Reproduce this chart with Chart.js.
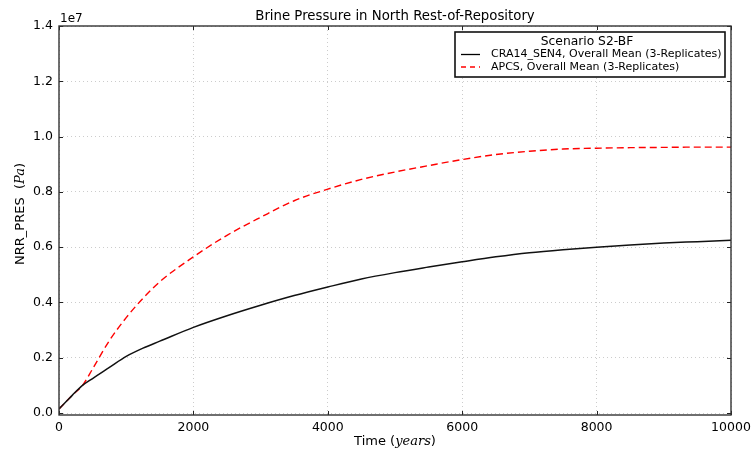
<!DOCTYPE html>
<html>
<head>
<meta charset="utf-8">
<script src="https://cdn.jsdelivr.net/npm/chart.js@4.4.0/dist/chart.umd.min.js"></script>
<style>
  html, body { margin: 0; padding: 0; background: #fff; }
  #wrap { width: 752px; height: 453px; }
</style>
</head>
<body>
<div id="wrap"><canvas id="chart" width="752" height="453"></canvas></div>
<script>
// --- data (pressure in units of 1e7 Pa) ---
const years = [0, 100, 200, 350, 500, 750, 1000, 1250, 1500, 2000, 2500, 3000, 3500, 4000,
  4500, 5000, 5500, 6000, 6500, 7000, 7500, 8000, 8500, 9000, 9500, 10000];
const cra14Pres = [0.015, 0.04, 0.065, 0.1, 0.125, 0.165, 0.205, 0.235, 0.26, 0.31, 0.352, 0.39,
  0.425, 0.456, 0.485, 0.508, 0.528, 0.547, 0.565, 0.58, 0.591, 0.6, 0.608, 0.615, 0.62, 0.625];
const apcsPres = [0.015, 0.04, 0.065, 0.1, 0.16, 0.262, 0.345, 0.415, 0.475, 0.565, 0.643, 0.708,
  0.768, 0.81, 0.845, 0.872, 0.895, 0.917, 0.935, 0.947, 0.955, 0.958, 0.96, 0.961, 0.962, 0.962];
const xTicks = [0, 2000, 4000, 6000, 8000, 10000];
const yTicks = [0, 0.2, 0.4, 0.6, 0.8, 1.0, 1.2, 1.4];

const FONT = "'DejaVu Sans', sans-serif";
const MATH = "'DejaVu Serif', serif";

function pts(xs, ys) {
  return xs.map((x, i) => ({ x: x, y: ys[i] }));
}

// matplotlib-ish decorations: frame, inward ticks, title, axis labels, legend
const decor = {
  id: "decor",
  afterDatasetsDraw(chart) {
    const c = chart.ctx;
    const a = chart.chartArea;
    const sx = chart.scales.x, sy = chart.scales.y;
    c.save();
    // inward ticks on all sides
    c.strokeStyle = "#222";
    c.lineWidth = 1;
    c.beginPath();
    xTicks.forEach(t => {
      const px = Math.round(sx.getPixelForValue(t)) + 0.5;
      c.moveTo(px, a.bottom); c.lineTo(px, a.bottom - 4);
      c.moveTo(px, a.top); c.lineTo(px, a.top + 4);
    });
    yTicks.forEach(t => {
      const py = Math.round(sy.getPixelForValue(t)) + 0.5;
      c.moveTo(a.left, py); c.lineTo(a.left + 4, py);
      c.moveTo(a.right, py); c.lineTo(a.right - 4, py);
    });
    c.stroke();
    // frame
    c.lineWidth = 1.4;
    c.strokeStyle = "#333";
    c.strokeRect(a.left, a.top, a.right - a.left, a.bottom - a.top);

    // title
    c.fillStyle = "#000";
    c.font = "13.3px " + FONT;
    c.textAlign = "center";
    c.textBaseline = "alphabetic";
    c.fillText("Brine Pressure in North Rest-of-Repository", (a.left + a.right) / 2, 20);
    // offset text
    c.font = "12px " + FONT;
    c.textAlign = "left";
    c.fillText("1e7", a.left + 1, 22);

    // x label: Time (years)
    const cx = (a.left + a.right) / 2;
    const parts = [["Time (", "13px " + FONT], ["years", "italic 13px " + MATH], [")", "13px " + FONT]];
    let w = 0;
    parts.forEach(p => { c.font = p[1]; w += c.measureText(p[0]).width; });
    let x = cx - w / 2;
    parts.forEach(p => { c.font = p[1]; c.fillText(p[0], x, 445); x += c.measureText(p[0]).width; });

    // y label: NRR_PRES (Pa)
    c.save();
    c.translate(24, 214);
    c.rotate(-Math.PI / 2);
    const yparts = [["NRR_PRES  (", "13px " + FONT], ["Pa", "italic 13px " + MATH], [")", "13px " + FONT]];
    w = 0;
    yparts.forEach(p => { c.font = p[1]; w += c.measureText(p[0]).width; });
    x = -w / 2;
    yparts.forEach(p => { c.font = p[1]; c.fillText(p[0], x, 0); x += c.measureText(p[0]).width; });
    c.restore();

    // legend
    const lx = 455, ly = 32, lw = 270, lh = 45;
    c.fillStyle = "#fff";
    c.fillRect(lx, ly, lw, lh);
    c.strokeStyle = "#111";
    c.lineWidth = 1.6;
    c.strokeRect(lx, ly, lw, lh);
    c.fillStyle = "#000";
    c.textAlign = "center";
    c.textBaseline = "middle";
    c.font = "12.3px " + FONT;
    c.fillText("Scenario S2-BF", lx + lw / 2 - 3, ly + 10);
    const items = [
      ["CRA14_SEN4, Overall Mean (3-Replicates)", "#000", []],
      ["APCS, Overall Mean (3-Replicates)", "#ff0000", [5, 4]]
    ];
    c.textAlign = "left";
    c.font = "11px " + FONT;
    items.forEach((it, i) => {
      const yy = ly + 22.5 + i * 12.5;
      c.strokeStyle = it[1];
      c.lineWidth = 1.3;
      c.setLineDash(it[2]);
      c.beginPath();
      c.moveTo(lx + 6, yy); c.lineTo(lx + 25, yy);
      c.stroke();
      c.setLineDash([]);
      c.fillStyle = "#000";
      c.fillText(it[0], lx + 36, yy);
    });
    c.restore();
  }
};

new Chart(document.getElementById("chart"), {
  type: "line",
  data: {
    datasets: [
      {
        label: "CRA14_SEN4, Overall Mean (3-Replicates)",
        data: pts(years, cra14Pres),
        borderColor: "#111",
        borderWidth: 1.5,
        pointRadius: 0,
        cubicInterpolationMode: "monotone",
        fill: false
      },
      {
        label: "APCS, Overall Mean (3-Replicates)",
        data: pts(years, apcsPres),
        borderColor: "#ff0000",
        borderWidth: 1.4,
        borderDash: [7, 4],
        pointRadius: 0,
        cubicInterpolationMode: "monotone",
        fill: false
      }
    ]
  },
  options: {
    responsive: false,
    animation: false,
    layout: { padding: { left: 0, top: 26, right: 21, bottom: 0 } },
    plugins: { legend: { display: false }, tooltip: { enabled: false } },
    scales: {
      x: {
        type: "linear",
        min: 0,
        max: 10000,
        afterBuildTicks: s => { s.ticks = xTicks.map(v => ({ value: v })); },
        afterFit: s => { s.height = 38; s.paddingRight = 0; s.paddingLeft = 0; },
        grid: { color: "rgba(0,0,0,0.25)", lineWidth: 0.8, drawTicks: false },
        border: { display: false, dash: [1, 3] },
        ticks: { color: "#000", font: { family: FONT, size: 12.5 }, padding: 5, maxRotation: 0,
          callback: v => String(v) }
      },
      y: {
        type: "linear",
        min: -0.007,
        max: 1.4,
        afterBuildTicks: s => { s.ticks = yTicks.map(v => ({ value: v })); },
        afterFit: s => { s.width = 59; },
        grid: { color: "rgba(0,0,0,0.25)", lineWidth: 0.8, drawTicks: false },
        border: { display: false, dash: [1, 3] },
        ticks: { color: "#000", font: { family: FONT, size: 12.5 }, padding: 6,
          callback: v => v.toFixed(1) }
      }
    }
  },
  plugins: [decor]
});
</script>
</body>
</html>
